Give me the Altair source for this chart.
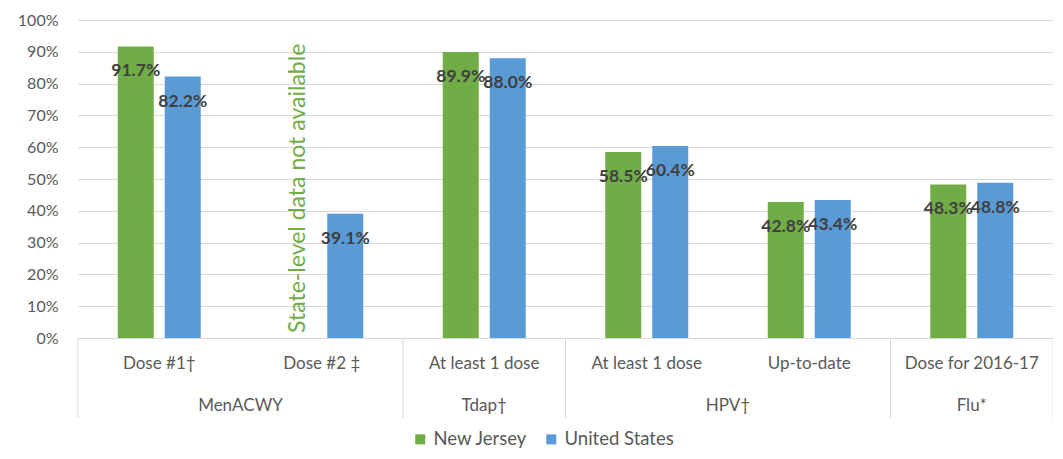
import altair as alt
import pandas as pd

groups = ["MenACWY", "MenACWY", "Tdap†", "HPV†", "HPV†", "Flu*"]
subs = ["Dose #1†", "Dose #2 ‡", "At least 1 dose", "At least 1 dose", "Up-to-date", "Dose for 2016-17"]
new_jersey = [0.917, None, 0.899, 0.585, 0.428, 0.483]
united_states = [0.822, 0.391, 0.880, 0.604, 0.434, 0.488]
series = ["New Jersey", "United States"]
colors = ["#70AD47", "#5B9BD5"]
note_text = "State-level data not available"
y_ticks = [0, 0.1, 0.2, 0.3, 0.4, 0.5, 0.6, 0.7, 0.8, 0.9, 1.0]

keys = [str(i) for i in range(len(subs))]

rows = []
for k, a, b in zip(keys, new_jersey, united_states):
    if a is not None:
        rows.append({"key": k, "series": series[0], "value": a})
    if b is not None:
        rows.append({"key": k, "series": series[1], "value": b})
bars_df = pd.DataFrame(rows)

missing_df = pd.DataFrame([
    {"key": k, "series": series[0], "value": 0, "note": note_text}
    for k, a in zip(keys, new_jersey) if a is None
])

sub_df = pd.DataFrame({"key": keys, "label": subs})

# group spans
group_rows = []
bounds = [0]
start = 0
for i in range(1, len(groups) + 1):
    if i == len(groups) or groups[i] != groups[start]:
        group_rows.append({"name": groups[start], "center": (start + i) / 2})
        bounds.append(i)
        start = i
group_df = pd.DataFrame(group_rows)
sep_df = pd.DataFrame({"pos": bounds})

W, H = 975, 318
FONT = "Lato"
GRAY = "#595959"

xband = alt.X("key:N", sort=keys, axis=None, scale=alt.Scale(paddingInner=0, paddingOuter=0))
xoff = alt.XOffset("series:N", sort=series, scale=alt.Scale(paddingInner=0.234, paddingOuter=0.846))
yaxis = alt.Axis(format="%", values=y_ticks, title=None, labelOverlap=False,
                 labelFontSize=16, labelColor=GRAY, labelFont=FONT, domain=False,
                 ticks=False, gridColor="#d9d9d9", labelPadding=20)
yenc = alt.Y("value:Q", scale=alt.Scale(domain=[0, 1], nice=False), axis=yaxis)

bars = alt.Chart(bars_df).mark_bar().encode(
    x=xband, xOffset=xoff, y=yenc,
    color=alt.Color("series:N", sort=series,
                    scale=alt.Scale(domain=series, range=colors),
                    legend=alt.Legend(title=None, orient="none", direction="horizontal",
                                      legendX=333, legendY=410, symbolType="square",
                                      symbolSize=100, symbolStrokeWidth=0,
                                      labelFontSize=18.5, labelColor=GRAY, labelFont=FONT,
                                      columnPadding=14, labelOffset=4, padding=0)),
)

labels = alt.Chart(bars_df).mark_text(dy=25, fontWeight="bold", fontSize=17.5, color="#404040", font=FONT).encode(
    x=xband, xOffset=xoff, y=yenc,
    text=alt.Text("value:Q", format=".1%"),
)

note = alt.Chart(missing_df).mark_text(angle=270, align="left", baseline="middle", dx=5,
                                       fontSize=23, color="#70AD47", font=FONT).encode(
    x=xband, xOffset=xoff, y=yenc, text="note:N",
)

sub_labels = alt.Chart(sub_df).mark_text(fontSize=17, color=GRAY, font=FONT, baseline="middle").encode(
    x=xband, y=alt.value(H + 26), text="label:N",
)

xq = alt.X("pos:Q", scale=alt.Scale(domain=[0, len(subs)], nice=False, zero=False), axis=None)
seps = alt.Chart(sep_df).mark_rule(color="#d9d9d9", strokeWidth=1).encode(
    x=xq, y=alt.value(H), y2=alt.value(H + 80),
)
group_labels = alt.Chart(group_df).mark_text(fontSize=17, color=GRAY, font=FONT, baseline="middle").encode(
    x=alt.X("center:Q", scale=alt.Scale(domain=[0, len(subs)], nice=False, zero=False), axis=None),
    y=alt.value(H + 68), text="name:N",
)

band_layer = alt.layer(bars, labels, note, sub_labels)
quant_layer = alt.layer(seps, group_labels)

chart = alt.layer(band_layer, quant_layer).resolve_scale(x="independent").properties(
    width=W, height=H,
    padding={"left": 70, "top": 12, "right": 0, "bottom": 113},
    autosize=alt.AutoSizeParams(type="none"),
).configure_view(stroke=None)

chart.save("out.html", embed_options={"renderer": "svg", "actions": False})
